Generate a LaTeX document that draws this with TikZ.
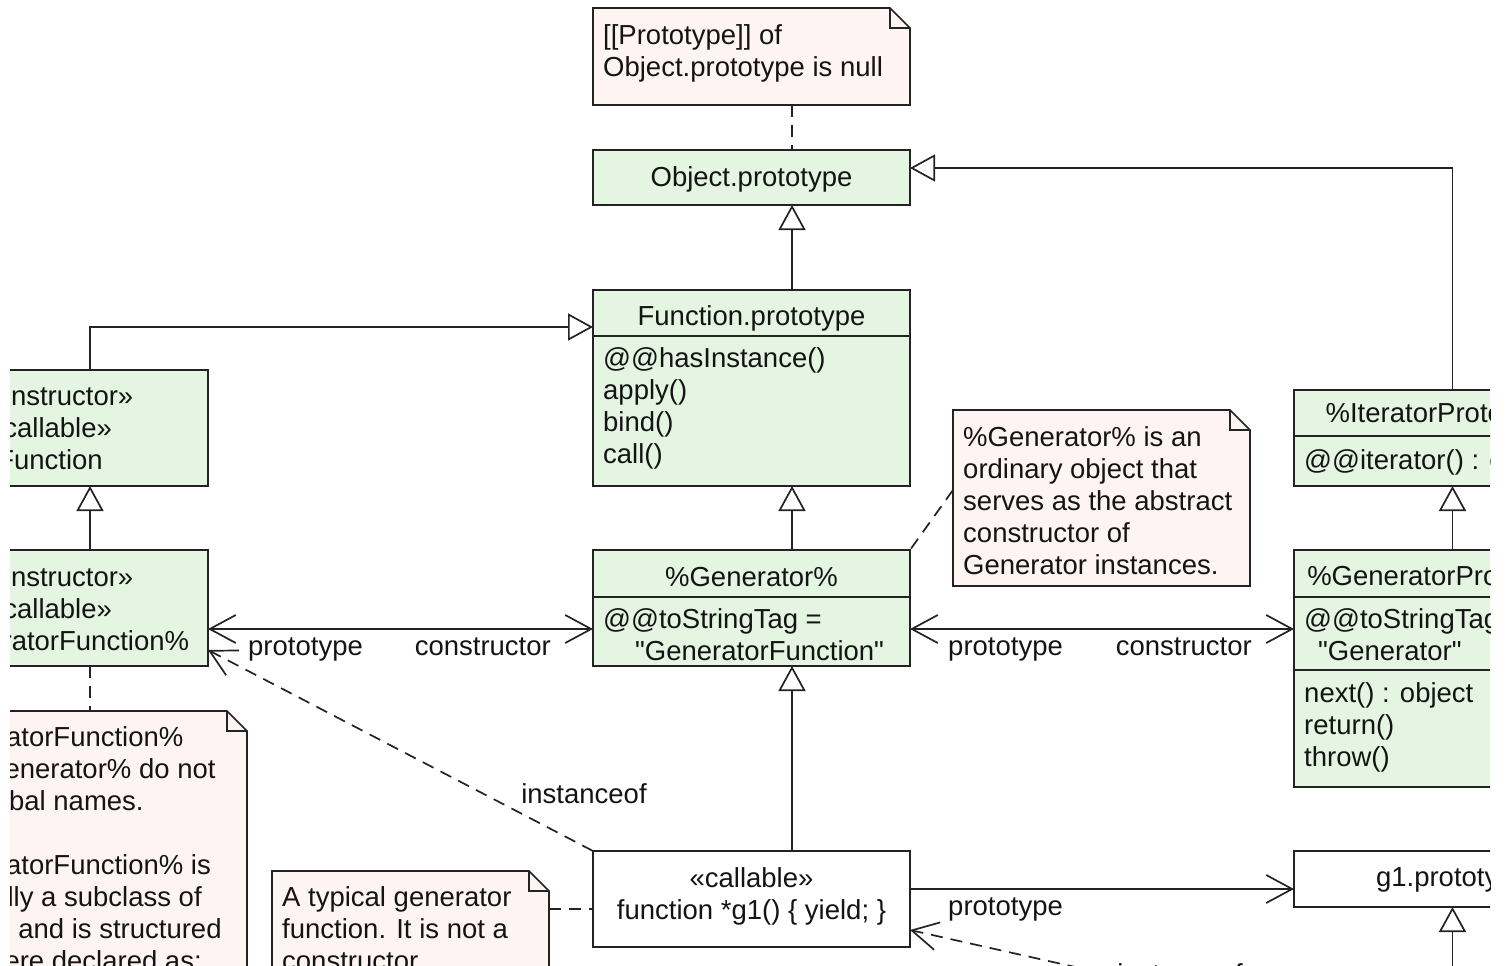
\documentclass[tikz,border=0pt]{standalone}
\usepackage{fontspec}
\setmainfont{Liberation Sans}
\newfontfamily\plainsans{Liberation Sans}
\usetikzlibrary{arrows.meta,calc}
\definecolor{clsfill}{RGB}{228,245,226}
\definecolor{notefill}{RGB}{255,244,244}
\definecolor{ln}{RGB}{35,35,35}
\definecolor{tx}{RGB}{20,20,20}
\newcommand{\mylines}[1]{\begin{tabular}[t]{@{}l@{}}#1\end{tabular}}
\newcommand{\mylinesc}[1]{\begin{tabular}[t]{@{}c@{}}#1\end{tabular}}
\newcommand{\notedraw}[1]{%
  \path[notepath] (#1.north west) -- ([xshift=-20pt]#1.north east) -- ([yshift=-20pt]#1.north east) -- (#1.south east) -- (#1.south west) -- cycle;
  \draw[draw=ln, line width=1.7pt] ([xshift=-20pt]#1.north east) |- ([yshift=-20pt]#1.north east);}
\begin{document}
\begin{tikzpicture}[x=1pt,y=-1pt,
  every node/.style={font=\plainsans\fontsize{27.5pt}{32pt}\selectfont, text=tx},
  box/.style={draw=ln, line width=1.7pt, anchor=north west, inner sep=0pt, outer sep=0pt, minimum width=317pt},
  cls/.style={box, fill=clsfill},
  obj/.style={box, fill=white},
  notebg/.style={anchor=north west, inner sep=0pt, outer sep=0pt},
  notepath/.style={draw=ln, line width=1.7pt, fill=notefill},
  sep/.style={draw=ln, line width=1.7pt},
  lbl/.style={inner sep=0pt, anchor=base west},
  lblc/.style={inner sep=0pt, anchor=base},
  lble/.style={inner sep=0pt, anchor=base east},
  gen/.style={draw=ln, line width=1.7pt, -{Triangle[open, length=25pt, width=27pt]}},
  assoc/.style={draw=ln, line width=1.7pt, -{Straight Barb[length=26pt, width=28pt]}},
  assoc2/.style={draw=ln, line width=1.7pt, {Straight Barb[length=26pt, width=28pt]}-{Straight Barb[length=26pt, width=28pt]}},
  dsh/.style={draw=ln, line width=1.7pt, dash pattern=on 12pt off 8pt},
  dsharr/.style={dsh, -{Straight Barb[length=26pt, width=28pt]}},
]
\useasboundingbox (0,0) rectangle (1505,966);
\begin{scope}
\clip (10,0) rectangle (1490,966);

% class boxes
\node[cls, minimum height=55pt] (objp) at (593,150) {};
\node[cls, minimum height=196pt] (funcp) at (593,290) {};
\node[cls, minimum height=116pt] (func) at (-109,370) {};
\node[cls, minimum height=116pt] (genfn) at (-109,550) {};
\node[cls, minimum height=116pt] (gen) at (593,550) {};
\node[cls, minimum height=96pt] (iterp) at (1294,390) {};
\node[cls, minimum height=237pt] (genp) at (1294,550) {};
\node[obj, minimum height=96pt] (g1f) at (593,851) {};
\node[obj, minimum height=56pt] (g1p) at (1294,851) {};

% separators
\draw[sep] ([yshift=-46pt]funcp.north west) -- ([yshift=-46pt]funcp.north east);
\draw[sep] ([yshift=-47pt]gen.north west) -- ([yshift=-47pt]gen.north east);
\draw[sep] ([yshift=-46pt]iterp.north west) -- ([yshift=-46pt]iterp.north east);
\draw[sep] ([yshift=-47pt]genp.north west) -- ([yshift=-47pt]genp.north east);
\draw[sep] ([yshift=-120pt]genp.north west) -- ([yshift=-120pt]genp.north east);

% notes
\node[notebg, minimum width=317pt, minimum height=97pt] (n1) at (593,8) {};
\node[notebg, minimum width=297pt, minimum height=176pt] (ngen) at (953,410) {};
\node[notebg, minimum width=352pt, minimum height=400pt] (nleft) at (-105,711) {};
\node[notebg, minimum width=277pt, minimum height=200pt] (ng1) at (272,871) {};
\notedraw{n1}
\notedraw{ngen}
\notedraw{nleft}
\notedraw{ng1}

% texts
\node[lblc] (objpT) at (751.5,186) {Object.prototype};
\node[lblc] (funcpT) at (751.5,325) {Function.prototype};
\node[lbl] (funcpA) at (603,367) {\mylines{@@hasInstance()\\apply()\\bind()\\call()}};
\node[lblc] (funcT) at (50,405) {\mylinesc{«constructor»\\«callable»\\Function}};
\node[lblc] (genfnT) at (50,586) {\mylinesc{«constructor»\\«callable»\\\%GeneratorFunction\%}};
\node[lblc] (genT) at (751.5,586) {\%Generator\%};
\node[lbl] (genA1) at (603,628) {@@toStringTag =};
\node[lbl] (genA2) at (635,660) {"GeneratorFunction"};
\node[lblc] (iterpT) at (1452.5,422) {\%IteratorPrototype\%};
\node[lbl] (iterpA) at (1304,469) {@@iterator() : object};
\node[lblc] (genpT) at (1452.5,585) {\%GeneratorPrototype\%};
\node[lbl] (genpA1) at (1304,628) {@@toStringTag =};
\node[lbl] (genpA2) at (1318,660) {"Generator"};
\node[lbl] (genpO) at (1304,702) {\mylines{next() : object\\return()\\throw()}};
\node[lblc] (g1fT) at (751.5,887) {\mylinesc{«callable»\\function *g1() \{ yield; \}}};
\node[lblc] (g1pT) at (1452.5,886) {g1.prototype};

\node[lbl] (n1T) at (603,45) {\mylines{[[Prototype]] of\\Object.prototype is null}};
\node[lbl] (ngenT) at (963,446) {\mylines{\%Generator\% is an\\ordinary object that\\serves as the abstract\\constructor of\\Generator instances.}};
\node[lbl] (nleftT) at (-95,746) {\mylines{\%GeneratorFunction\%\\and \%Generator\% do not\\have global names.\\ \\\%GeneratorFunction\% is\\essentially a subclass of\\Function and is structured\\as if it were declared as:}};
\node[lbl] (ng1T) at (282,906) {\mylines{A typical generator\\function. It is not a\\constructor.}};

% helper coordinates
\coordinate (cx) at (792,0);
\coordinate (fx) at (90,0);
\coordinate (r327) at (0,327);
\coordinate (r629) at (0,629);
\coordinate (r650) at (0,650);
\coordinate (r490) at (0,490);
\coordinate (r168) at (0,168);
\coordinate (r909) at (0,909);
\coordinate (r889) at (0,889);
\coordinate (r930) at (0,930);
\coordinate (bot1) at (1452.5,1010);
\coordinate (bot2) at (1294,1016);

% connectors
\draw[dsh] (n1.south -| cx) -- (objp.north -| cx);
\draw[gen] (funcp.north -| cx) -- (objp.south -| cx);
\draw[gen] (func.north -| fx) |- (funcp.west |- r327);
\draw[gen] (genfn.north -| fx) -- (func.south -| fx);
\draw[dsh] (genfn.south -| fx) -- (nleft.north -| fx);
\draw[gen] (gen.north -| cx) -- (funcp.south -| cx);
\draw[assoc2] (genfn.east |- r629) -- (gen.west |- r629);
\draw[assoc2] (gen.east |- r629) -- (genp.west |- r629);
\draw[dsharr] (g1f.north west) -- (genfn.east |- r650);
\draw[dsh] (ngen.west |- r490) -- (gen.north east);
\draw[gen] (genp.north) -- (iterp.south);
\draw[gen] (iterp.north) |- (objp.east |- r168);
\draw[gen] (g1f.north -| cx) -- (gen.south -| cx);
\draw[dsh] (ng1.east |- r909) -- (g1f.west |- r909);
\draw[assoc] (g1f.east |- r889) -- (g1p.west |- r889);
\draw[gen] (bot1) -- (g1p.south);
\draw[dsharr] (bot2) -- (g1f.east |- r930);

% connector labels
\node[lbl] (pL1) at (248,655) {prototype};
\node[lble] (cL1) at (551,655) {constructor};
\node[lbl] (pL2) at (948,655) {prototype};
\node[lble] (cL2) at (1252,655) {constructor};
\node[lbl] (pL3) at (948,915) {prototype};
\node[lblc] (iL1) at (584,803) {instanceof};
\node[lblc] (iL2) at (1180,983) {instanceof};
\end{scope}
\end{tikzpicture}
\end{document}
